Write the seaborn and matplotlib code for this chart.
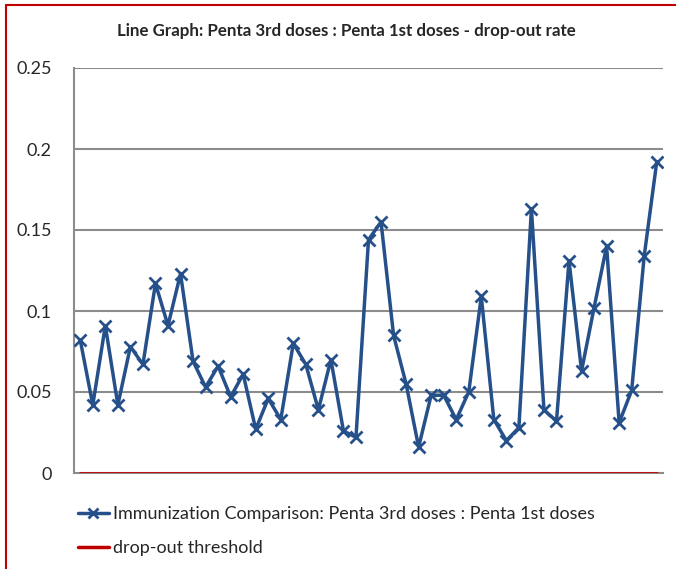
import numpy as np
import pandas as pd
import matplotlib.pyplot as plt
from matplotlib.lines import Line2D
import seaborn as sns

# drop-out rate per reporting unit (Penta 3rd vs Penta 1st doses)
rates = [0.082, 0.042, 0.091, 0.042, 0.078, 0.067, 0.117, 0.091, 0.123, 0.069,
         0.053, 0.066, 0.047, 0.061, 0.027, 0.046, 0.033, 0.080, 0.067, 0.039,
         0.070, 0.026, 0.022, 0.144, 0.155, 0.085, 0.055, 0.016, 0.048, 0.048,
         0.033, 0.050, 0.109, 0.033, 0.020, 0.028, 0.163, 0.039, 0.032, 0.131,
         0.063, 0.102, 0.140, 0.031, 0.051, 0.134, 0.192]
threshold = 0.0
yticks = [0, 0.05, 0.1, 0.15, 0.2, 0.25]
ytick_labels = ["0", "0.05", "0.1", "0.15", "0.2", "0.25"]

series_name = "Immunization Comparison: Penta 3rd doses : Penta 1st doses"
thr_name = "drop-out threshold"

df = pd.DataFrame({"idx": np.arange(len(rates)), "rate": rates,
                   "thr": [threshold] * len(rates)})

sns.set_style("white")
plt.rcParams['font.family'] = ['Lato', 'DejaVu Sans']

blue = "#26508a"
red = "#c00000"
grid = "#8c8c8c"

fig = plt.figure(figsize=(6.76, 5.69), dpi=100)
ax = fig.add_axes([74 / 676, 1 - 473 / 569, (663 - 74) / 676, (473 - 68) / 569])

for y in yticks[1:]:
    ax.axhline(y, color=grid, lw=1.5, zorder=0)

sns.lineplot(data=df, x="idx", y="thr", color=red, lw=2, ax=ax, zorder=2)
sns.lineplot(data=df, x="idx", y="rate", color=blue, lw=2.5, marker="x",
             markersize=8, markeredgewidth=2, markeredgecolor=blue, ax=ax, zorder=3)

ax.set_xlim(-0.5, len(rates) - 0.5)
ax.set_ylim(0, 0.25)
ax.set_xticks([])
ax.set_yticks(yticks)
ax.set_yticklabels(ytick_labels, fontsize=13)
ax.set_xlabel("")
ax.set_ylabel("")
ax.tick_params(axis="y", direction="out", length=6, width=1.5, color=grid, pad=10)
for s in ["top", "right"]:
    ax.spines[s].set_visible(False)
for s in ["left", "bottom"]:
    ax.spines[s].set_color(grid)
    ax.spines[s].set_linewidth(1.5)
ax.spines["bottom"].set_zorder(1)

fig.text(346 / 676, 1 - 31 / 569, "Line Graph: Penta 3rd doses : Penta 1st doses - drop-out rate",
         ha="center", va="center", fontsize=12.2, fontweight="bold")

handles = [Line2D([], [], color=blue, lw=2.5, marker="x", markersize=7, markeredgewidth=2),
           Line2D([], [], color=red, lw=2.5)]
fig.legend(handles, [series_name, thr_name], loc="upper left",
           bbox_to_anchor=(78 / 676, 1 - 506 / 569), frameon=False, fontsize=13,
           borderpad=0, borderaxespad=0,
           handlelength=1.7, handletextpad=0.25, labelspacing=1.0)

# red frame edges (left and top)
fig.add_artist(Line2D([6 / 676, 6 / 676], [0, 1 - 5 / 569], color=red, lw=1.5,
                      transform=fig.transFigure))
fig.add_artist(Line2D([6 / 676, 1], [1 - 5 / 569, 1 - 5 / 569], color=red, lw=1.5,
                      transform=fig.transFigure))

fig.savefig("out.png", dpi=100)
